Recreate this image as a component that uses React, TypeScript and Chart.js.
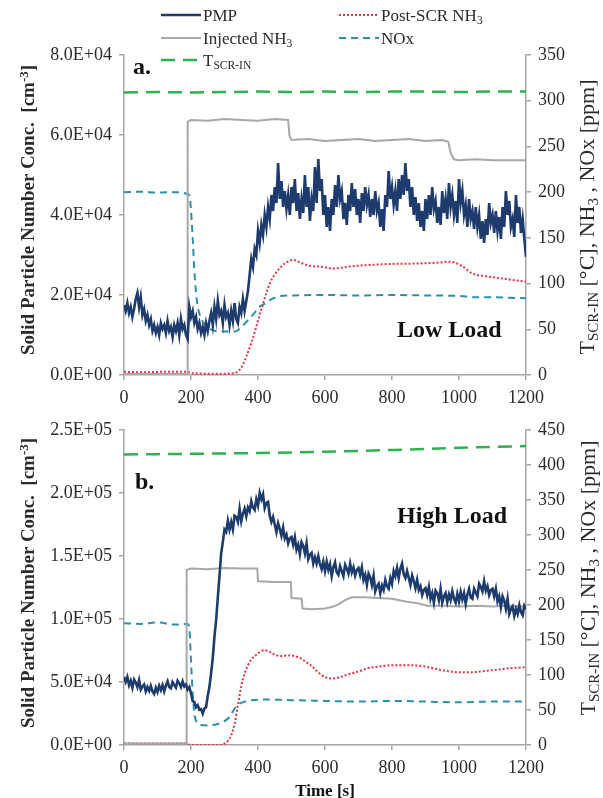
import React, { useEffect, useRef } from "react";
import { Chart, registerables } from "chart.js";

Chart.register(...registerables);

const FONT = '"Liberation Serif", "Times New Roman", Times, serif';
const TEXT = "#2b2b2b";
const AXIS = "#a6a6a6";
const C_PMP = "#1d3b6d";
const C_INJ = "#a8a8a8";
const C_POST = "#e3353f";
const C_NOX = "#2b90ad";
const C_TSCR = "#2db34f";

// ---------- tick labels ----------
const TIME_TICKS = [0, 200, 400, 600, 800, 1000, 1200];
const LEFT_TICKS_A = [0, 20000, 40000, 60000, 80000];
const RIGHT_TICKS_A = [0, 50, 100, 150, 200, 250, 300, 350];
const LEFT_TICKS_B = [0, 50000, 100000, 150000, 200000, 250000];
const RIGHT_TICKS_B = [0, 50, 100, 150, 200, 250, 300, 350, 400, 450];

// ---------- panel a (Low Load) ----------
const PMP_STEP = 5; // seconds between PMP samples
const PMP_A = [
  17500, 16000, 18000, 15500, 17000, 14500, 16500, 19000, 20500, 17000, 19500, 15000, 16500, 13500, 15000, 12500, 14000, 11000, 12500, 10500,
  12000, 10000, 13000, 11500, 12500, 10500, 13500, 11000, 12000, 9500, 12500, 11000, 13000, 10000, 14000, 11500, 12500, 10000, 9000, 17000,
  14500, 16000, 13000, 14500, 11500, 13000, 10500, 12000, 10000, 13000, 11000, 13500, 15500, 12500, 17000, 14000, 18500, 15000, 16000, 13000,
  17500, 14500, 15500, 12500, 16000, 13500, 18000, 14000, 13000, 17000, 15500, 19000, 16000, 18500, 21000, 25000, 29000, 27000, 31500, 30000,
  36000, 33000, 37500, 35000, 40000, 37000, 42000, 39000, 45000, 41000, 47000, 43000, 53000, 44000, 48500, 42000, 46000, 41500, 45000, 40000,
  47000, 43000, 49000, 41000, 45500, 39000, 44000, 40500, 50000, 42000, 47000, 38500, 44000, 41000, 52000, 43000, 54000, 46000, 49000, 40000,
  45000, 37000, 42000, 36000, 44000, 40000, 47500, 42000, 50000, 44000, 46000, 39000, 43000, 37500, 45000, 41000, 48000, 42000, 46500, 40000,
  44000, 38000, 45500, 41000, 47000, 42500, 45000, 39500, 44000, 40000, 46000, 41000, 43000, 37000, 41500, 36000, 45000, 42000, 51000, 44000,
  47000, 42500, 46000, 41000, 49000, 44000, 50000, 45000, 53000, 46000, 49000, 42000, 47000, 40000, 44500, 38500, 43000, 37000, 41000, 36000,
  44000, 39000, 45000, 40000, 47000, 41500, 43500, 38000, 42000, 37500, 46000, 40500, 44000, 39000, 48000, 42000, 45000, 40000, 43500, 38000,
  49000, 43000, 46000, 40000, 42500, 37000, 44000, 39000, 41000, 36500, 42000, 37000, 40000, 34000, 38500, 33000, 39000, 35000, 43000, 38000,
  40000, 35500, 41000, 36000, 39500, 34000, 42000, 37000, 46000, 40000, 43500, 37000, 39000, 34500, 45000, 38000, 42000, 35500, 39000, 34000,
  29500,
];
const INJ_A_T = [0, 189, 190, 200, 250, 300, 350, 400, 450, 490, 494, 500, 550, 600, 650, 700, 750, 800, 850, 900, 950, 968, 975, 985, 1000, 1050, 1100, 1150, 1200];
const INJ_A_V = [1, 1, 277, 279, 278, 280, 279, 278, 280, 279, 262, 257, 258, 256, 257, 258, 256, 257, 258, 256, 257, 255, 243, 236, 235, 236, 235, 235, 235];
const POST_A_T = [0, 60, 120, 190, 200, 250, 300, 330, 340, 350, 365, 380, 395, 405, 415, 425, 435, 450, 465, 480, 495, 505, 520, 540, 560, 585, 625, 680, 740, 800, 880, 940, 970, 990, 1010, 1040, 1080, 1140, 1200];
const POST_A_V = [3.5, 3, 3.5, 3.5, 2, 1.5, 1.5, 2, 4, 8, 20, 35, 53, 66, 78, 90, 100, 110, 117, 122, 125, 126, 124, 121, 119, 118.5, 116.5, 119, 120.5, 121.5, 122, 123, 124, 122.5, 119, 111, 108, 105, 102];
const NOX_A_T = [0, 50, 100, 150, 190, 196, 200, 205, 210, 215, 220, 230, 245, 265, 290, 330, 350, 365, 385, 405, 420, 435, 450, 465, 500, 600, 700, 800, 900, 1000, 1050, 1100, 1150, 1200];
const NOX_A_V = [200, 200.5, 199.5, 200, 198, 195, 180, 150, 115, 90, 75, 62, 54, 49, 47.5, 47.5, 52, 58, 66, 74.7, 78, 82, 84.5, 86.4, 87, 87.5, 87, 87.5, 87, 86.5, 85, 85, 84.5, 84];
const TSCR_A_T = [0, 100, 200, 300, 400, 500, 600, 700, 800, 900, 1000, 1100, 1200];
const TSCR_A_V = [309, 309.5, 309, 309.5, 310, 309.5, 310, 309.5, 310, 310, 309.5, 310, 310];

// ---------- panel b (High Load) ----------
const PMP_B = [
  54000, 50000, 54000, 47500, 51000, 45500, 52000, 49500, 46000, 51500, 44000, 46500, 48000, 42500, 46000, 43000, 47000, 42500, 40500, 45500,
  42000, 47000, 43500, 47500, 42500, 47000, 50500, 46000, 45000, 50000, 47500, 45500, 51000, 49000, 46000, 50500, 46500, 48000, 44000, 46000,
  41000, 35000, 34000, 30000, 31500, 28000, 28500, 25000, 29000, 30000, 39000, 46000, 57000, 69000, 86000, 99000, 117000, 134000, 152000, 161000,
  171000, 169000, 178000, 171000, 177000, 171000, 182000, 181000, 177000, 187500, 177500, 183500, 187500, 181500, 188500, 185500, 193500, 188500, 186500, 195000,
  190000, 200000, 195000, 199000, 188000, 192000, 193000, 182000, 177000, 181000, 175000, 169000, 176000, 171500, 166000, 172500, 164000, 167000, 160000, 164000,
  165000, 159000, 165000, 155000, 159000, 151500, 161000, 158000, 152000, 160000, 147500, 151000, 152500, 144000, 149000, 144000, 150000, 143500, 139500, 145500,
  138000, 145500, 139000, 143500, 134000, 141000, 145000, 137000, 135000, 142000, 138000, 134000, 143000, 140000, 136000, 144000, 137000, 141000, 134500, 139000,
  140500, 135000, 141000, 131000, 135000, 127000, 136000, 133000, 127000, 134500, 122000, 126000, 128000, 120500, 126500, 123000, 131000, 126000, 124000, 132500,
  128000, 138000, 134000, 140500, 132500, 140000, 144000, 135500, 132500, 138000, 132500, 127000, 134500, 130000, 124500, 131000, 123000, 126000, 119000, 123000,
  124500, 119000, 125500, 116000, 120500, 113000, 122500, 120500, 115000, 124000, 113000, 118000, 120500, 113500, 119500, 115000, 122000, 116000, 113000, 120000,
  114000, 121500, 115500, 120500, 112000, 119500, 124000, 117000, 116000, 124000, 121000, 118000, 128000, 125500, 122000, 130000, 122500, 126000, 119000, 123000,
  124000, 118000, 124000, 114000, 118000, 109500, 118000, 114500, 108000, 116000, 104000, 108000, 110000, 102500, 108000, 104000, 111000, 105500, 103000, 110500,
  108000,
];
const INJ_B_T = [0, 186, 187, 200, 250, 300, 350, 398, 400, 450, 498, 500, 530, 533, 560, 600, 620, 640, 660, 680, 720, 760, 800, 840, 880, 905, 950, 1000, 1050, 1100, 1150, 1200];
const INJ_B_V = [2, 2, 250, 252, 251, 253, 252, 252, 234, 233, 233, 210, 209, 195, 194, 195, 197, 201, 207, 211, 211, 210, 209, 205, 202, 199, 199, 198, 199, 198, 199, 198];
const POST_B_T = [0, 100, 185, 195, 230, 280, 300, 310, 320, 330, 340, 350, 360, 370, 380, 395, 410, 420, 435, 450, 470, 490, 510, 530, 545, 560, 575, 590, 605, 625, 645, 670, 700, 730, 760, 800, 850, 900, 930, 960, 1000, 1040, 1080, 1120, 1160, 1200];
const POST_B_V = [2.5, 2, 2.5, 0.5, 0, 0, 2, 6, 14, 30, 57, 84, 102, 114, 122, 129, 134, 135.5, 133, 129, 127, 128, 127, 123, 118, 113, 106, 100, 96, 95, 97, 101, 105, 110, 112, 114, 114, 112, 109, 106, 104, 104, 106, 108, 110, 111];
const NOX_B_T = [0, 50, 100, 150, 190, 196, 200, 205, 210, 215, 225, 250, 280, 300, 315, 325, 335, 345, 360, 380, 420, 500, 600, 700, 800, 900, 1000, 1100, 1200];
const NOX_B_V = [174, 173, 175, 172, 173, 160, 120, 75, 45, 35, 29, 28, 30, 34, 40, 48, 55, 59, 62, 64, 65, 64, 63, 62, 63, 62, 61, 62, 62];
const TSCR_B_T = [0, 100, 200, 300, 400, 500, 600, 700, 800, 900, 1000, 1100, 1200];
const TSCR_B_V = [415, 415.5, 416, 416.5, 417, 418, 419, 420, 421.5, 423, 424.5, 426, 427];

// ---------- helpers ----------
function sci(v: number): string {
  const [m, e] = v.toExponential(1).split("e");
  const n = Number(e);
  return `${m}E${n < 0 ? "-" : "+"}${String(Math.abs(n)).padStart(2, "0")}`;
}
const pairs = (t: number[], v: number[]) => t.map((x, i) => ({ x, y: v[i] }));
const stepped = (step: number, v: number[]) => v.map((y, i) => ({ x: i * step, y }));

type Panel = {
  canvasH: number;
  padTop: number;
  xH: number;
  leftTicks: number[];
  rightTicks: number[];
  pmp: number[];
  injT: number[]; injV: number[];
  postT: number[]; postV: number[];
  noxT: number[]; noxV: number[];
  tT: number[]; tV: number[];
};

const PANEL_A: Panel = {
  canvasH: 410, padTop: 55, xH: 35,
  leftTicks: LEFT_TICKS_A, rightTicks: RIGHT_TICKS_A,
  pmp: PMP_A, injT: INJ_A_T, injV: INJ_A_V, postT: POST_A_T, postV: POST_A_V,
  noxT: NOX_A_T, noxV: NOX_A_V, tT: TSCR_A_T, tV: TSCR_A_V,
};
const PANEL_B: Panel = {
  canvasH: 388, padTop: 20, xH: 53,
  leftTicks: LEFT_TICKS_B, rightTicks: RIGHT_TICKS_B,
  pmp: PMP_B, injT: INJ_B_T, injV: INJ_B_V, postT: POST_B_T, postV: POST_B_V,
  noxT: NOX_B_T, noxV: NOX_B_V, tT: TSCR_B_T, tV: TSCR_B_V,
};

const LEFT_W = 124;
const RIGHT_W = 603 - 526;

function axis(ticks: number[], fmt: (v: number) => string, extra: any) {
  return {
    type: "linear",
    min: ticks[0],
    max: ticks[ticks.length - 1],
    border: { display: true, color: AXIS, width: 1.5 },
    grid: { drawOnChartArea: false, drawTicks: true, tickLength: 5, color: AXIS, lineWidth: 1.5 },
    ticks: {
      font: { family: FONT, size: 18 },
      color: TEXT,
      padding: 7,
      autoSkip: false,
      maxRotation: 0,
      callback: (v: any) => fmt(Number(v)),
    },
    afterBuildTicks: (s: any) => {
      s.ticks = ticks.map((value) => ({ value }));
    },
    ...extra,
  };
}

function buildConfig(p: Panel): any {
  return {
    type: "line",
    data: {
      datasets: [
        { label: "PMP", data: stepped(PMP_STEP, p.pmp), yAxisID: "y", borderColor: C_PMP, borderWidth: 2.6, pointRadius: 0, tension: 0 },
        { label: "Injected NH3", data: pairs(p.injT, p.injV), yAxisID: "y2", borderColor: C_INJ, borderWidth: 2, pointRadius: 0, tension: 0 },
        { label: "Post-SCR NH3", data: pairs(p.postT, p.postV), yAxisID: "y2", borderColor: C_POST, borderWidth: 2, borderDash: [2, 2], pointRadius: 0, cubicInterpolationMode: "monotone" },
        { label: "NOx", data: pairs(p.noxT, p.noxV), yAxisID: "y2", borderColor: C_NOX, borderWidth: 2, borderDash: [7, 5], pointRadius: 0, cubicInterpolationMode: "monotone" },
        { label: "TSCR-IN", data: pairs(p.tT, p.tV), yAxisID: "y2", borderColor: C_TSCR, borderWidth: 2.5, borderDash: [14, 8], pointRadius: 0, tension: 0 },
      ],
    },
    options: {
      animation: false,
      responsive: false,
      devicePixelRatio: 1,
      layout: { padding: { top: p.padTop, left: 0, right: 0, bottom: 0 } },
      plugins: { legend: { display: false }, tooltip: { enabled: false }, title: { display: false } },
      scales: {
        x: axis(TIME_TICKS, (v) => String(v), {
          position: "bottom",
          afterFit: (s: any) => { s.height = p.xH; },
        }),
        y: axis(p.leftTicks, sci, {
          position: "left",
          afterFit: (s: any) => { s.width = LEFT_W; },
        }),
        y2: axis(p.rightTicks, (v) => String(v), {
          position: "right",
          afterFit: (s: any) => { s.width = RIGHT_W; },
        }),
      },
    },
  };
}

// ---------- text helpers ----------
const Sub = ({ children }: any) => (
  <span style={{ fontSize: "0.68em", position: "relative", top: "0.3em" }}>{children}</span>
);
const Sup = ({ children }: any) => (
  <span style={{ fontSize: "0.68em", position: "relative", top: "-0.5em" }}>{children}</span>
);

function VText({ cx, cy, style, children }: any) {
  return (
    <div
      style={{
        position: "absolute",
        left: cx,
        top: cy,
        transform: "translate(-50%, -50%) rotate(-90deg)",
        whiteSpace: "pre",
        lineHeight: 1,
        fontFamily: FONT,
        color: TEXT,
        ...style,
      }}
    >
      {children}
    </div>
  );
}

function LegendItem({ x, y, color, dash, width, children }: any) {
  return (
    <>
      <svg style={{ position: "absolute", left: x, top: y - 4 }} width={40} height={8}>
        <line x1={0} y1={4} x2={40} y2={4} stroke={color} strokeWidth={width} strokeDasharray={dash} />
      </svg>
      <div style={{ position: "absolute", left: x + 42, top: y - 8, fontSize: 17, lineHeight: 1, whiteSpace: "nowrap", fontFamily: FONT, color: TEXT }}>
        {children}
      </div>
    </>
  );
}

function Label({ x, y, size, children }: any) {
  return (
    <div style={{ position: "absolute", left: x, top: y, fontSize: size, fontWeight: "bold", lineHeight: 1, whiteSpace: "nowrap", fontFamily: FONT, color: "#111" }}>
      {children}
    </div>
  );
}

export default function App() {
  const refA = useRef<HTMLCanvasElement>(null);
  const refB = useRef<HTMLCanvasElement>(null);

  useEffect(() => {
    const a = new Chart(refA.current as HTMLCanvasElement, buildConfig(PANEL_A));
    const b = new Chart(refB.current as HTMLCanvasElement, buildConfig(PANEL_B));
    return () => {
      a.destroy();
      b.destroy();
    };
  }, []);

  const leftTitle = (
    <>
      Solid Particle Number Conc.  [cm<Sup>-3</Sup>]
    </>
  );
  const rightTitle = (
    <>
      T<Sub>SCR-IN</Sub> [°C], NH<Sub>3</Sub> , NOx [ppm]
    </>
  );

  return (
    <div style={{ position: "absolute", left: 0, top: 0, width: 603, height: 798, background: "#fff", overflow: "hidden" }}>
      <canvas ref={refA} width={603} height={PANEL_A.canvasH} style={{ position: "absolute", left: 0, top: 0 }} />
      <canvas ref={refB} width={603} height={PANEL_B.canvasH} style={{ position: "absolute", left: 0, top: PANEL_A.canvasH }} />

      {/* legend */}
      <LegendItem x={161} y={15} color={C_PMP} width={2.4}>PMP</LegendItem>
      <LegendItem x={161} y={38} color={C_INJ} width={2}>Injected NH<Sub>3</Sub></LegendItem>
      <LegendItem x={161} y={60} color={C_TSCR} width={2.5} dash="14 8">T<Sub>SCR-IN</Sub></LegendItem>
      <LegendItem x={339} y={15} color={C_POST} width={2} dash="2 2">Post-SCR NH<Sub>3</Sub></LegendItem>
      <LegendItem x={339} y={38} color={C_NOX} width={2} dash="7 5">NOx</LegendItem>

      {/* axis titles */}
      <VText cx={27} cy={210} style={{ fontSize: 19, fontWeight: "bold" }}>{leftTitle}</VText>
      <VText cx={27} cy={583} style={{ fontSize: 19, fontWeight: "bold" }}>{leftTitle}</VText>
      <VText cx={587} cy={217} style={{ fontSize: 22 }}>{rightTitle}</VText>
      <VText cx={588} cy={578} style={{ fontSize: 22 }}>{rightTitle}</VText>

      {/* panel labels */}
      <Label x={133} y={54} size={24}>a.</Label>
      <Label x={135} y={469} size={24}>b.</Label>
      <Label x={397} y={317} size={24}>Low Load</Label>
      <Label x={397} y={503} size={24}>High Load</Label>

      <div style={{ position: "absolute", left: 325, top: 790, transform: "translate(-50%, -50%)", fontSize: 17, fontWeight: "bold", fontFamily: FONT, color: "#111", whiteSpace: "nowrap", lineHeight: 1 }}>
        Time [s]
      </div>
    </div>
  );
}
